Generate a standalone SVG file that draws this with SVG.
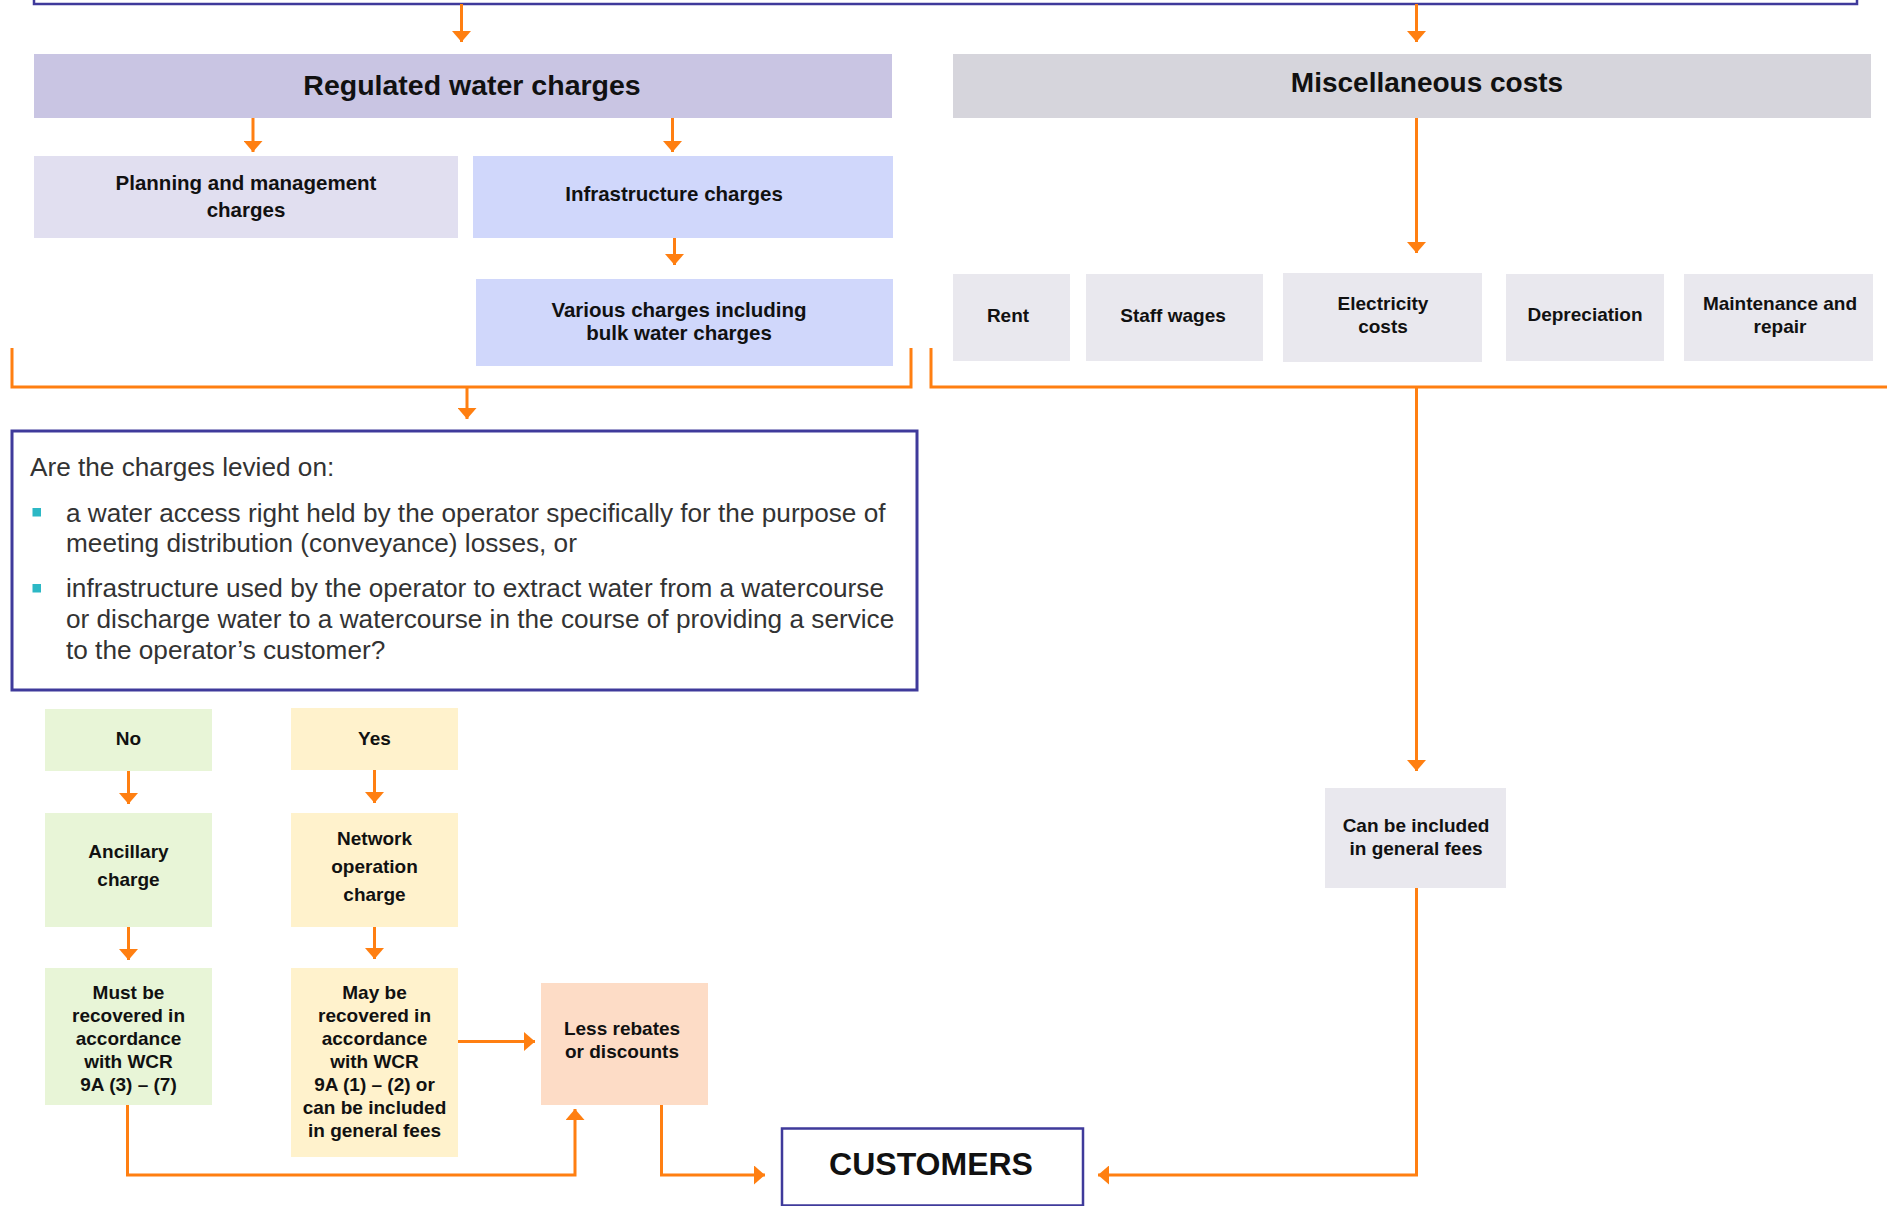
<svg xmlns="http://www.w3.org/2000/svg" width="1887" height="1206" viewBox="0 0 1887 1206">
<defs>
<marker id="ah" markerUnits="userSpaceOnUse" markerWidth="11" markerHeight="19" refX="11" refY="9.5" orient="auto">
<path d="M0,0 L11,9.5 L0,19 Z" fill="#ff7f11"/>
</marker>
<style>
.c{fill:none;stroke:#ff7f11;stroke-width:3}
.a{marker-end:url(#ah)}
.pb{fill:none;stroke:#3f3a9b;stroke-width:2.5}
.t{font-family:"Liberation Sans",Arial,sans-serif;font-weight:bold;fill:#111;text-anchor:middle}
.s19{font-size:19px}
.s20{font-size:20.5px}
.s28{font-size:28px}
.body{font-family:"Liberation Sans",Arial,sans-serif;font-size:26.2px;fill:#333}
</style>
</defs>
<rect width="1887" height="1206" fill="#fff"/>

<g id="top-box"><path class="pb" d="M34,-6 V4 H1857 V-6"/></g>

<g id="connectors">
<path class="c a" d="M461.5,4 V42"/>
<path class="c a" d="M1416.5,4 V42"/>
<path class="c a" d="M253,118 V152"/>
<path class="c a" d="M672.5,118 V152"/>
<path class="c a" d="M674.5,238 V265"/>
<path class="c" d="M12,348 V387 H911 V348"/>
<path class="c a" d="M467,387 V419"/>
<path class="c" d="M931,348 V387 H1887"/>
<path class="c a" d="M1416.5,118 V253"/>
<path class="c a" d="M1416.5,387 V771"/>
<path class="c a" d="M128.5,771 V804"/>
<path class="c a" d="M374.5,770 V803"/>
<path class="c a" d="M128.5,927 V960"/>
<path class="c a" d="M374.5,927 V959"/>
<path class="c a" d="M458,1041.5 H535"/>
<path class="c a" d="M127.5,1105 V1175 H575 V1109"/>
<path class="c a" d="M661.5,1105 V1175 H765"/>
<path class="c a" d="M1416.5,888 V1175 H1098"/>
</g>

<g id="regulated">
<rect x="34" y="54" width="858" height="64" fill="#c9c5e3"/>
<text class="t" style="font-size:28.5px" x="472" y="94.5">Regulated water charges</text>
</g>
<g id="misc">
<rect x="953" y="54" width="918" height="64" fill="#d6d5dc"/>
<text class="t s28" x="1427" y="91.5">Miscellaneous costs</text>
</g>
<g id="planning">
<rect x="34" y="156" width="424" height="82" fill="#e1dff0"/>
<text class="t s20" x="246" y="190">Planning and management</text>
<text class="t s20" x="246" y="217">charges</text>
</g>
<g id="infrastructure">
<rect x="473" y="156" width="420" height="82" fill="#d0d7fb"/>
<text class="t s20" x="674" y="201">Infrastructure charges</text>
</g>
<g id="various">
<rect x="476" y="279" width="417" height="87" fill="#d0d7fb"/>
<text class="t s20" x="679" y="317">Various charges including</text>
<text class="t s20" x="679" y="340">bulk water charges</text>
</g>

<g id="rent">
<rect x="953" y="274" width="117" height="87" fill="#e9e8ee"/>
<text class="t s19" x="1008" y="321.5">Rent</text>
</g>
<g id="staff-wages">
<rect x="1086" y="274" width="177" height="87" fill="#e9e8ee"/>
<text class="t s19" x="1173" y="321.5">Staff wages</text>
</g>
<g id="electricity">
<rect x="1283" y="273" width="199" height="89" fill="#e9e8ee"/>
<text class="t s19" x="1383" y="310">Electricity</text>
<text class="t s19" x="1383" y="333">costs</text>
</g>
<g id="depreciation">
<rect x="1506" y="274" width="158" height="87" fill="#e9e8ee"/>
<text class="t s19" x="1585" y="321">Depreciation</text>
</g>
<g id="maintenance">
<rect x="1684" y="274" width="189" height="87" fill="#e9e8ee"/>
<text class="t s19" x="1780" y="310">Maintenance and</text>
<text class="t s19" x="1780" y="333">repair</text>
</g>

<g id="question">
<rect x="12" y="431" width="905" height="259" fill="#fff" stroke="#3f3a9b" stroke-width="3"/>
<text class="body" x="30" y="476">Are the charges levied on:</text>
<rect x="32.5" y="508" width="8.5" height="8.5" fill="#2cb8c5"/>
<text class="body" x="66" y="522">a water access right held by the operator specifically for the purpose of</text>
<text class="body" x="66" y="552">meeting distribution (conveyance) losses, or</text>
<rect x="32.5" y="584" width="8.5" height="8.5" fill="#2cb8c5"/>
<text class="body" x="66" y="597">infrastructure used by the operator to extract water from a watercourse</text>
<text class="body" x="66" y="628">or discharge water to a watercourse in the course of providing a service</text>
<text class="body" x="66" y="658.5">to the operator’s customer?</text>
</g>

<g id="no">
<rect x="45" y="709" width="167" height="62" fill="#e8f5d7"/>
<text class="t s19" x="128.5" y="745">No</text>
</g>
<g id="yes">
<rect x="291" y="708" width="167" height="62" fill="#fff2cc"/>
<text class="t s19" x="374.5" y="745">Yes</text>
</g>
<g id="ancillary">
<rect x="45" y="813" width="167" height="114" fill="#e8f5d7"/>
<text class="t s19" x="128.5" y="858">Ancillary</text>
<text class="t s19" x="128.5" y="886">charge</text>
</g>
<g id="network">
<rect x="291" y="813" width="167" height="114" fill="#fff2cc"/>
<text class="t s19" x="374.5" y="844.5">Network</text>
<text class="t s19" x="374.5" y="872.5">operation</text>
<text class="t s19" x="374.5" y="900.5">charge</text>
</g>
<g id="must">
<rect x="45" y="968" width="167" height="137" fill="#e8f5d7"/>
<text class="t s19" x="128.5" y="998.5">Must be</text>
<text class="t s19" x="128.5" y="1021.5">recovered in</text>
<text class="t s19" x="128.5" y="1044.5">accordance</text>
<text class="t s19" x="128.5" y="1067.5">with WCR</text>
<text class="t s19" x="128.5" y="1090.5">9A (3) – (7)</text>
</g>
<g id="may">
<rect x="291" y="968" width="167" height="189" fill="#fff2cc"/>
<text class="t s19" x="374.5" y="998.5">May be</text>
<text class="t s19" x="374.5" y="1021.5">recovered in</text>
<text class="t s19" x="374.5" y="1044.5">accordance</text>
<text class="t s19" x="374.5" y="1067.5">with WCR</text>
<text class="t s19" x="374.5" y="1090.5">9A (1) – (2) or</text>
<text class="t s19" x="374.5" y="1113.5">can be included</text>
<text class="t s19" x="374.5" y="1136.5">in general fees</text>
</g>
<g id="less">
<rect x="541" y="983" width="167" height="122" fill="#fddcc6"/>
<text class="t s19" x="622" y="1035">Less rebates</text>
<text class="t s19" x="622" y="1058">or discounts</text>
</g>
<g id="general-fees">
<rect x="1325" y="788" width="181" height="100" fill="#e9e8ee"/>
<text class="t s19" x="1416" y="831.5">Can be included</text>
<text class="t s19" x="1416" y="854.5">in general fees</text>
</g>
<g id="customers">
<rect x="782" y="1128.5" width="301" height="77" fill="#fff" stroke="#3f3a9b" stroke-width="2.5"/>
<text class="t" style="font-size:32px" x="931" y="1175">CUSTOMERS</text>
</g>
</svg>
